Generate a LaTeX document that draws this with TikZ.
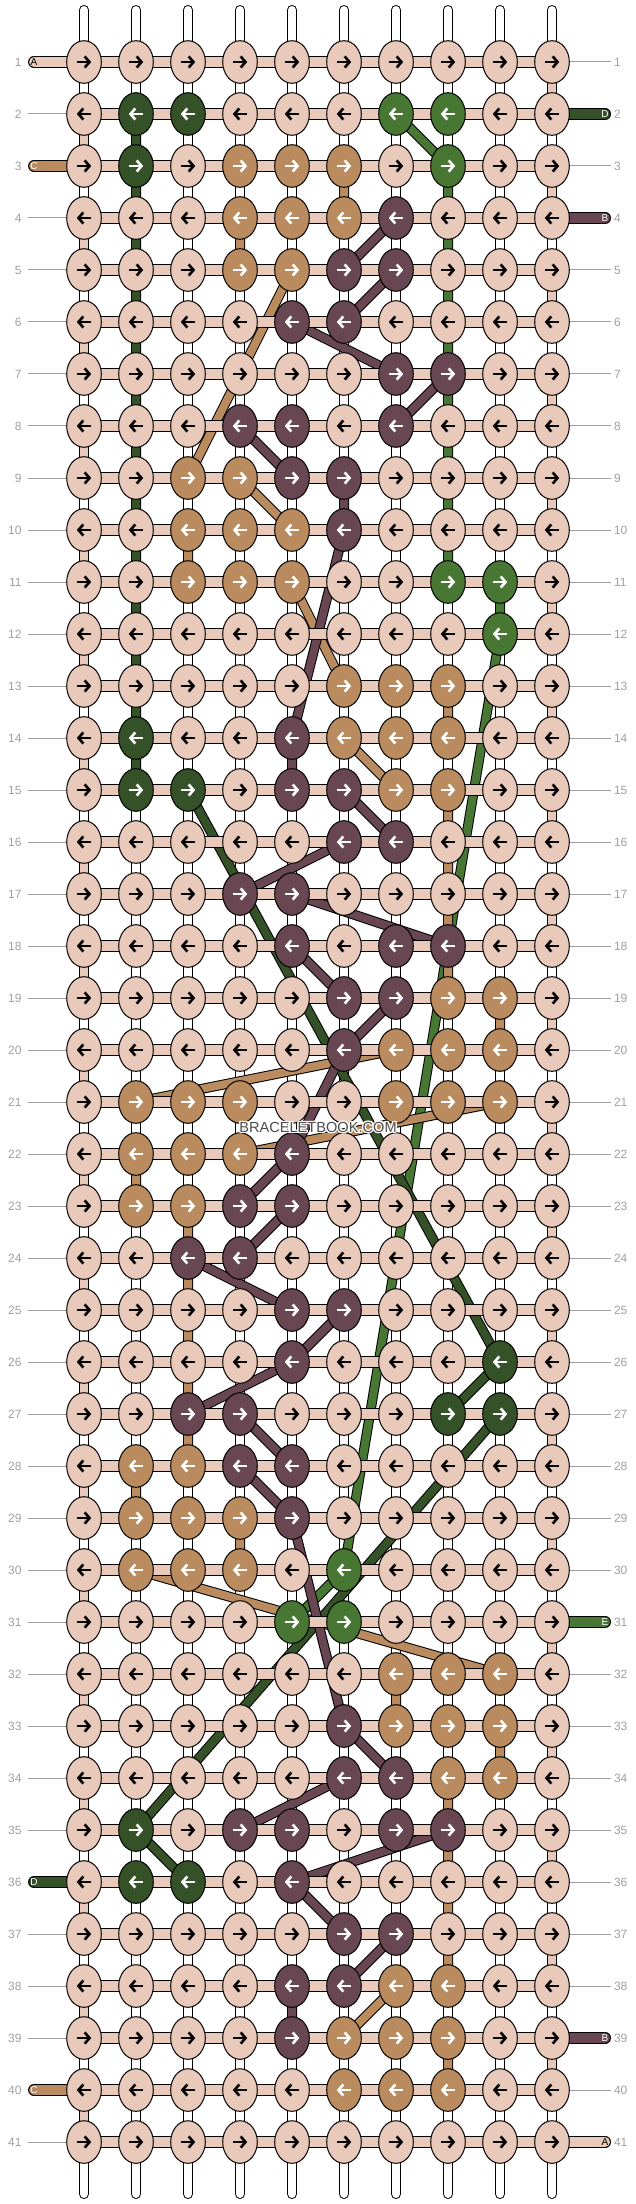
\documentclass[tikz,border=0pt]{standalone}
\usepackage{fontspec}
\setmainfont{Liberation Sans}
\usepackage{contour}
\usetikzlibrary{shapes.geometric,arrows.meta}
\contourlength{0.6pt}

\definecolor{kP}{HTML}{E9C9BA}
\definecolor{kT}{HTML}{B98B5E}
\definecolor{kU}{HTML}{684652}
\definecolor{kD}{HTML}{355128}
\definecolor{kG}{HTML}{487733}
\colorlet{aP}{black}
\colorlet{aT}{white}
\colorlet{aU}{white}
\colorlet{aD}{white}
\colorlet{aG}{white}
\definecolor{labgray}{HTML}{A0A0A0}

\pgfdeclarelayer{back}
\pgfdeclarelayer{mid}
\pgfsetlayers{back,mid,main}

\tikzstyle{knot}=[ellipse, draw, line width=0.5pt, inner sep=0pt, minimum width=17.3pt, minimum height=21.3pt]
\tikzstyle{knotarrow}=[line width=1.3pt, -{Straight Barb[length=2.4pt,width=5.6pt]}]
\tikzstyle{strand}=[draw=black, line width=0.5pt, double distance=4pt, line join=round]
\tikzstyle{warp}=[strand, double=white, line cap=round]
\tikzstyle{band}=[draw=black, line width=0.5pt, double=kP, double distance=5pt]
\tikzstyle{stub}=[band, line cap=round]
\tikzstyle{rowlab}=[text=labgray, font=\fontsize{6}{7}\selectfont, inner sep=0pt]
\tikzstyle{labline}=[draw=labgray, line width=0.5pt]
\tikzstyle{stubtext}=[font=\fontsize{5}{6}\selectfont, inner sep=0pt]

\begin{document}
\begin{tikzpicture}[x=26pt, y=-26pt]
\useasboundingbox (-0.6154,-0.1923) rectangle (11.6154,42.1923);

% knots, one row per line (P peach, T tan, U purple, D dark green, G green)
\foreach \y/\rowcodes in {1/{P,P,P,P,P,P,P,P,P,P}, 2/{P,D,D,P,P,P,G,G,P,P},
  3/{P,D,P,T,T,T,P,G,P,P}, 4/{P,P,P,T,T,T,U,P,P,P}, 5/{P,P,P,T,T,U,U,P,P,P},
  6/{P,P,P,P,U,U,P,P,P,P}, 7/{P,P,P,P,P,P,U,U,P,P}, 8/{P,P,P,U,U,P,U,P,P,P},
  9/{P,P,T,T,U,U,P,P,P,P}, 10/{P,P,T,T,T,U,P,P,P,P}, 11/{P,P,T,T,T,P,P,G,G,P},
  12/{P,P,P,P,P,P,P,P,G,P}, 13/{P,P,P,P,P,T,T,T,P,P}, 14/{P,D,P,P,U,T,T,T,P,P},
  15/{P,D,D,P,U,U,T,T,P,P}, 16/{P,P,P,P,P,U,U,P,P,P}, 17/{P,P,P,U,U,P,P,P,P,P},
  18/{P,P,P,P,U,P,U,U,P,P}, 19/{P,P,P,P,P,U,U,T,T,P}, 20/{P,P,P,P,P,U,T,T,T,P},
  21/{P,T,T,T,P,P,T,T,T,P}, 22/{P,T,T,T,U,P,P,P,P,P}, 23/{P,T,T,U,U,P,P,P,P,P},
  24/{P,P,U,U,P,P,P,P,P,P}, 25/{P,P,P,P,U,U,P,P,P,P}, 26/{P,P,P,P,U,P,P,P,D,P},
  27/{P,P,U,U,P,P,P,D,D,P}, 28/{P,T,T,U,U,P,P,P,P,P}, 29/{P,T,T,T,U,P,P,P,P,P},
  30/{P,T,T,T,P,G,P,P,P,P}, 31/{P,P,P,P,G,G,P,P,P,P}, 32/{P,P,P,P,P,P,T,T,T,P},
  33/{P,P,P,P,P,U,T,T,T,P}, 34/{P,P,P,P,P,U,U,T,T,P}, 35/{P,D,P,U,U,P,U,U,P,P},
  36/{P,D,D,P,U,P,P,P,P,P}, 37/{P,P,P,P,P,U,U,P,P,P}, 38/{P,P,P,P,U,U,T,T,P,P},
  39/{P,P,P,P,U,T,T,T,P,P}, 40/{P,P,P,P,P,T,T,T,P,P}, 41/{P,P,P,P,P,P,P,P,P,P}}
{
  \pgfmathsetmacro\xa{ifthenelse(mod(\y,2)==1,-3.6,3.6)}
  \pgfmathsetmacro\xb{ifthenelse(mod(\y,2)==1,3.6,-3.6)}
  \foreach \kn [count=\x] in \rowcodes
  {
    \node[knot, fill=k\kn] (k-\y-\x) at (\x,\y) {};
    \draw[knotarrow, draw=a\kn] ([xshift=\xa pt]k-\y-\x.center) -- ([xshift=\xb pt]k-\y-\x.center);
  }
}

% row numbers
\foreach \y in {1,...,41}
{
  \node[rowlab, anchor=east, outer sep=3.25pt] (ll-\y) at (-0.0769,\y) {\y};
  \node[rowlab, anchor=west, outer sep=1.5pt] (rl-\y) at (11.1346,\y) {\y};
}
\foreach \y in {2,4,5,...,35,37,38,39,41}
  \draw[labline] (ll-\y) -- (k-\y-1);
\foreach \y in {1,3,5,6,...,30,32,33,...,38,40}
  \draw[labline] (k-\y-10) -- (rl-\y);

% string ends
\foreach \y/\nm/\tc in {1/A/black, 3/C/white, 36/D/white, 40/C/white}
  \node[stubtext, text=\tc] (sl-\y) at (0.04,\y) {\nm};
\foreach \y/\nm/\tc in {2/D/white, 4/B/white, 31/E/white, 39/B/white, 41/A/black}
  \node[stubtext, text=\tc] (sr-\y) at (11.02,\y) {\nm};

\node[font=\fontsize{7.3}{8}\selectfont, text=black!70] (wm) at (5.5,21.5) {\contour{white}{BRACELETBOOK.COM}};

\begin{pgfonlayer}{back}
\fill[white] (-0.6154,-0.1923) rectangle (11.6154,42.1923);
\foreach \x in {1,...,10}
{
  \coordinate (top-\x) at (\x,0);
  \coordinate (bot-\x) at (\x,42);
  \draw[warp] (top-\x) -- (bot-\x);
}
% A turns at the row ends
\foreach \y in {1,...,40}
{
  \pgfmathtruncatemacro\n{\y+1}
  \pgfmathtruncatemacro\e{ifthenelse(mod(\y,2)==1,10,1)}
  \draw[strand, double=kP] (k-\y-\e.center) -- (k-\n-\e.center);
}
% E
\draw[strand, double=kG] (k-2-8.center) \foreach \p in {2-7,3-8,11-8,11-9,12-9,30-6,31-5,31-6} {-- (k-\p.center)};
% D
\draw[strand, double=kD] (k-2-3.center) \foreach \p in {2-2,3-2,14-2,15-2,15-3,26-9,27-8,27-9,35-2,36-3,36-2} {-- (k-\p.center)};
% C
\draw[strand, double=kT] (k-3-4.center) \foreach \p in {3-5,3-6,4-6,4-5,4-4,5-4,5-5,9-3,9-4,10-5,10-4,10-3,11-3,11-4,11-5,
  13-6,13-7,13-8,14-8,14-7,14-6,15-7,15-8,19-8,19-9,20-9,20-8,20-7,21-2,21-3,21-4,21-7,21-8,21-9,22-4,22-3,22-2,
  23-2,23-3,28-3,28-2,29-2,29-3,29-4,30-4,30-3,30-2,32-9,32-8,32-7,33-7,33-8,33-9,34-9,34-8,38-8,38-7,
  39-6,39-7,39-8,40-8,40-7,40-6} {-- (k-\p.center)};
% B
\draw[strand, double=kU] (k-4-7.center) \foreach \p in {5-6,5-7,6-6,6-5,7-7,7-8,8-7,8-5,8-4,9-5,9-6,10-6,14-5,15-5,15-6,
  16-7,16-6,17-4,17-5,18-8,18-7,18-5,19-6,19-7,20-6,22-5,23-4,23-5,24-4,24-3,25-5,25-6,26-5,27-3,27-4,28-5,28-4,
  29-5,33-6,34-7,34-6,35-4,35-5,35-7,35-8,36-5,37-6,37-7,38-6,38-5,39-5} {-- (k-\p.center)};
\end{pgfonlayer}

\begin{pgfonlayer}{mid}
\foreach \y in {1,...,41}
  \draw[band] (k-\y-1.center) -- (k-\y-10.center);
\foreach \y/\col in {1/kP, 3/kT, 36/kD, 40/kT}
  \draw[stub, double=\col] (sl-\y.center) -- (k-\y-1.center);
\foreach \y/\col in {2/kD, 4/kU, 31/kG, 39/kU, 41/kP}
  \draw[stub, double=\col] (k-\y-10.center) -- (sr-\y.center);
\end{pgfonlayer}
\end{tikzpicture}
\end{document}
